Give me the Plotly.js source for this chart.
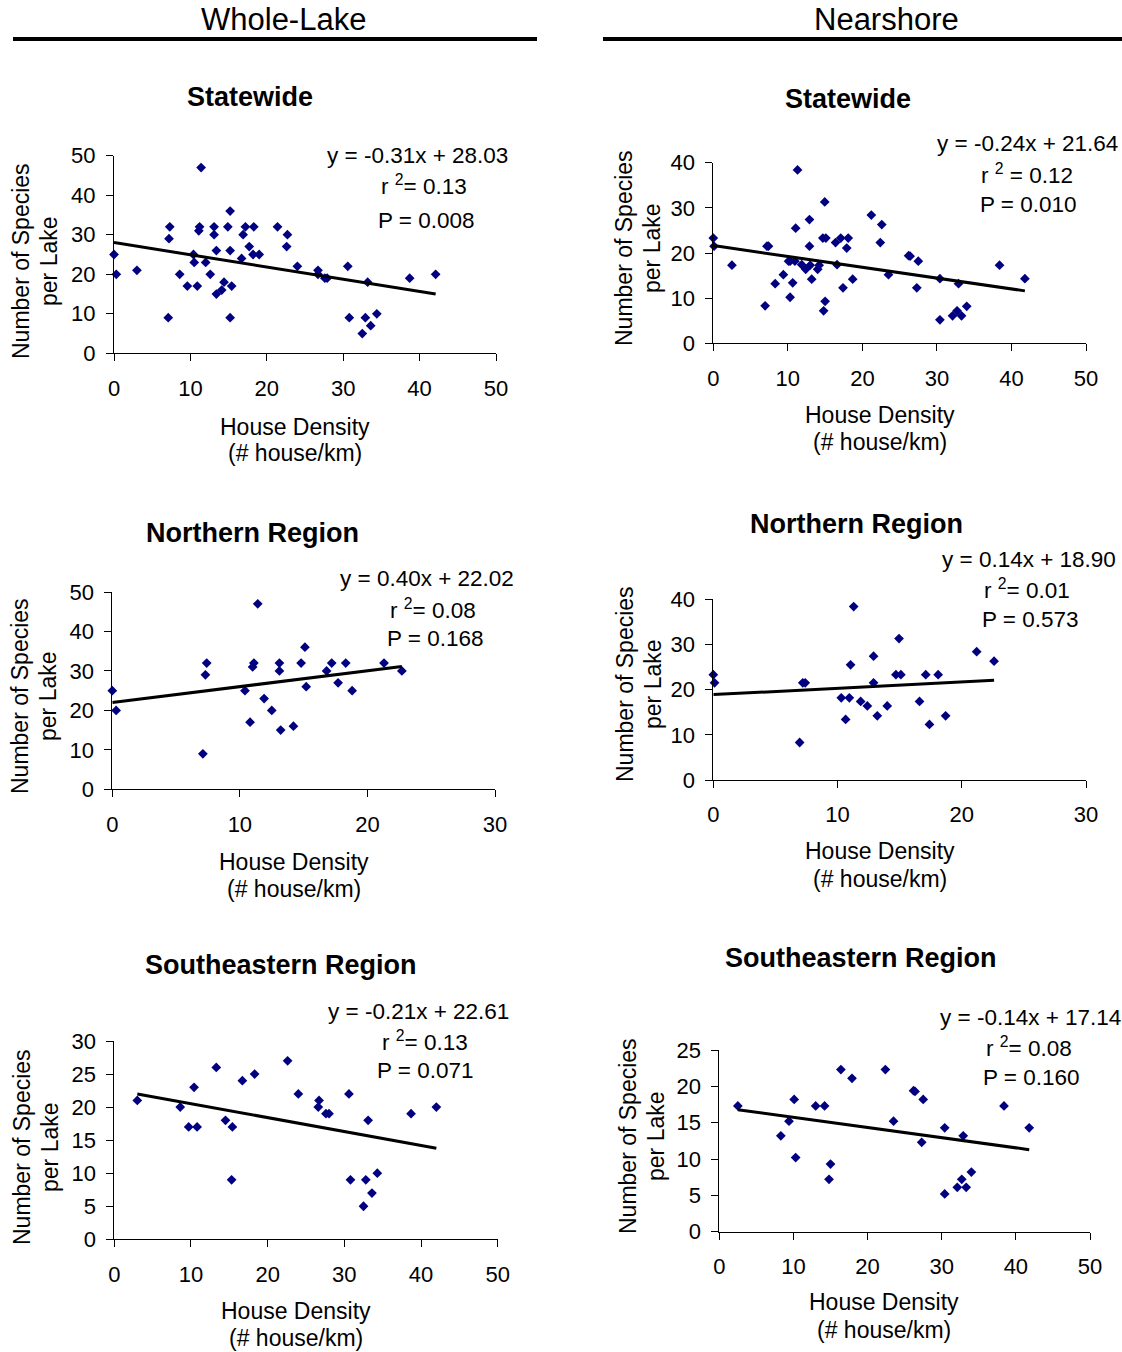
<!DOCTYPE html>
<html>
<head>
<meta charset="utf-8">
<script src="https://cdn.plot.ly/plotly-3.0.1.min.js"></script>
<style>html,body{margin:0;padding:0;background:#fff;}</style>
</head>
<body>
<div id="chart" style="width:1122px;height:1352px;"></div>
<script>
// ---------------- DATA ----------------
const columnHeaders = ['Whole-Lake', 'Nearshore'];
const panelTitles = ['Statewide', 'Statewide', 'Northern Region', 'Northern Region', 'Southeastern Region', 'Southeastern Region'];
const xAxisTitleLines = ['House Density', '(# house/km)'];
const yAxisTitleLines = ['Number of Species', 'per Lake'];

const xTicks50 = [0, 10, 20, 30, 40, 50];
const xTicks30 = [0, 10, 20, 30];
const yTicks50 = [0, 10, 20, 30, 40, 50];
const yTicks40 = [0, 10, 20, 30, 40];
const yTicks30 = [0, 5, 10, 15, 20, 25, 30];
const yTicks25 = [0, 5, 10, 15, 20, 25];

// Whole-lake, statewide
const wlStateX = [0,0.3,3,11.4,7.3,7.2,7.1,8.6,9.6,10.9,10.4,10.5,11.1,11.2,12.0,12.6,13.1,13.1,13.4,13.4,14.1,14.4,14.9,15.2,15.2,15.2,15.4,16.7,16.9,17.2,17.7,18.2,18.3,19.0,21.4,22.6,22.7,24.0,26.7,26.7,27.6,27.9,30.6,30.8,32.5,32.9,33.2,33.6,34.4,38.7,42.1];
const wlStateY = [25,20,21,47,32,29,9,20,17,17,25,23,31,32,23,20,32,30,26,15,16,18,32,36,26,9,17,24,30,32,27,25,32,25,32,27,30,22,21,20,19,19,22,9,5,9,18,7,10,19,20];

// Nearshore, statewide
const nsStateX = [0,0.1,6.95,7.2,7.4,10.3,10.65,10.95,11.05,11.3,11.86,12.4,12.9,12.9,13.2,14.0,14.7,14.95,15.1,16.6,17.1,17.4,18.1,18.7,21.2,22.6,2.5,8.3,9.4,10.1,10.3,13.0,14.2,14.8,15.0,16.4,17.9,22.4,23.5,26.2,26.4,27.3,27.5,30.4,30.4,32.1,32.7,32.9,33.3,34.0,38.4,41.8];
const nsStateY = [23.3,21.5,8.3,21.5,21.5,18.2,13.4,18.2,25.5,38.4,17.4,16.4,27.4,21.5,14.2,16.4,23.3,31.3,23.3,17.4,23.3,12.3,23.3,14.2,28.4,26.3,17.3,13.2,15.2,18.2,10.2,17.3,17.3,7.2,9.3,22.3,21.1,22.3,15.2,19.4,19.3,12.3,18.2,14.3,5.2,6.1,7.2,13.2,6.1,8.2,17.3,14.3];

// Whole-lake, northern region
const wlNorthX = [0,0.3,7.1,7.3,7.4,10.4,10.8,11.0,11.1,11.4,11.9,12.5,13.1,13.1,13.2,14.2,14.8,15.1,15.2,16.8,17.2,17.7,18.3,18.8,21.3,22.7];
const wlNorthY = [25,20,9,29,32,25,17,31,32,47,23,20,32,30,15,16,32,36,26,30,32,27,32,25,32,30];

// Nearshore, northern region
const nsNorthX = [0,0.1,6.95,7.2,7.4,10.3,10.65,10.95,11.05,11.3,11.86,12.4,12.9,12.9,13.2,14.0,14.7,14.95,15.1,16.6,17.1,17.4,18.1,18.7,21.2,22.6];
const nsNorthY = [23.3,21.5,8.3,21.5,21.5,18.2,13.4,18.2,25.5,38.4,17.4,16.4,27.4,21.5,14.2,16.4,23.3,31.3,23.3,17.4,23.3,12.3,23.3,14.2,28.4,26.3];

// Whole-lake, southeastern region
const wlSouthX = [3.0,8.6,9.7,10.4,10.8,13.3,14.5,15.3,15.4,16.7,18.3,22.6,24.0,26.6,26.7,27.6,28.0,30.6,30.8,32.5,32.8,33.1,33.6,34.3,38.7,42.0];
const wlSouthY = [21,20,17,23,17,26,18,9,17,24,25,27,22,20,21,19,19,22,9,5,9,18,7,10,19,20];

// Nearshore, southeastern region
const nsSouthX = [2.5,8.3,9.4,10.1,10.3,13.0,14.2,14.8,15.0,16.4,17.9,22.4,23.5,26.2,26.4,27.3,27.5,30.4,30.4,32.1,32.7,32.9,33.3,34.0,38.4,41.8];
const nsSouthY = [17.3,13.2,15.2,18.2,10.2,17.3,17.3,7.2,9.3,22.3,21.1,22.3,15.2,19.4,19.3,12.3,18.2,14.3,5.2,6.1,7.2,13.2,6.1,8.2,17.3,14.3];

// Regression fits (as printed on the chart)
const fitSlope = [-0.31, -0.24, 0.40, 0.14, -0.21, -0.14];
const fitIntercept = [28.03, 21.64, 22.02, 18.90, 22.61, 17.14];
const eqText = ['y = -0.31x + 28.03', 'y = -0.24x + 21.64', 'y = 0.40x + 22.02', 'y = 0.14x + 18.90', 'y = -0.21x + 22.61', 'y = -0.14x + 17.14'];
const r2Text = ['r <sup>2</sup>= 0.13', 'r <sup>2</sup> = 0.12', 'r <sup>2</sup>= 0.08', 'r <sup>2</sup>= 0.01', 'r <sup>2</sup>= 0.13', 'r <sup>2</sup>= 0.08'];
const pText = ['P = 0.008', 'P = 0.010', 'P = 0.168', 'P = 0.573', 'P = 0.071', 'P = 0.160'];

// ---------------- LAYOUT ----------------
const W = 1122, H = 1352;
const FONT = 'Liberation Sans, Arial, Helvetica, sans-serif';
const px = v => v / W;
const py = v => 1 - v / H;

const seriesX = [wlStateX, nsStateX, wlNorthX, nsNorthX, wlSouthX, nsSouthX];
const seriesY = [wlStateY, nsStateY, wlNorthY, nsNorthY, wlSouthY, nsSouthY];
const xTickSets = [xTicks50, xTicks50, xTicks30, xTicks30, xTicks50, xTicks50];
const yTickSets = [yTicks50, yTicks40, yTicks50, yTicks40, yTicks30, yTicks25];

// pixel boxes [left, right, top, bottom]
const boxes = [
  [114, 496, 155.7, 353.3],
  [713.3, 1086, 162.7, 343.3],
  [112.3, 495, 592, 789.3],
  [713.3, 1086, 599.3, 780],
  [114.3, 497.7, 1041, 1239.3],
  [719.3, 1090, 1050, 1231.7]
];
const titlePos = [[250, 97], [848, 99], [252, 533], [856, 524], [281, 965], [861, 958]];
const eqPos = [[417, 155], [1027, 144], [427, 578], [1029, 559], [418, 1011], [1030, 1017]];
const r2Pos = [[424, 185], [1027, 174], [433, 609], [1027, 589], [425, 1041], [1029, 1047]];
const pPos = [[426, 220], [1028, 204], [435, 638], [1030, 619], [425, 1070], [1031, 1077]];
// [line1 x, line2 x, center y]
const yTitlePos = [[21, 49, 261], [624, 652, 248], [20, 48, 696], [625, 653, 684], [22, 50, 1147], [628, 656, 1136]];
// [center x, line1 y, line2 y]
const xTitlePos = [[295, 427, 453], [880, 415, 442], [294, 862, 889], [880, 851, 879], [296, 1311, 1338], [884, 1302, 1330]];

const traces = [];
const layout = {
  width: W, height: H,
  margin: {l: 0, r: 0, t: 0, b: 0},
  paper_bgcolor: '#fff', plot_bgcolor: 'rgba(0,0,0,0)',
  showlegend: false,
  font: {family: FONT, color: '#000'},
  annotations: [],
  shapes: []
};

const ann = (text, x, y, size, extra) => Object.assign({
  text: text, xref: 'paper', yref: 'paper', x: px(x), y: py(y),
  xanchor: 'center', yanchor: 'middle', showarrow: false,
  font: {family: FONT, size: size, color: '#000'}
}, extra || {});

for (let i = 0; i < 6; i++) {
  const n = i + 1;
  const xa = 'x' + (n === 1 ? '' : n), ya = 'y' + (n === 1 ? '' : n);
  const xs = seriesX[i], ys = seriesY[i];
  const b = boxes[i];
  traces.push({
    type: 'scatter', mode: 'markers', x: xs, y: ys, xaxis: xa, yaxis: ya,
    marker: {symbol: 'diamond', size: 7.5, color: '#000080'},
    cliponaxis: false, hoverinfo: 'skip'
  });
  const xmin = Math.min(...xs), xmax = Math.max(...xs);
  traces.push({
    type: 'scatter', mode: 'lines',
    x: [xmin, xmax],
    y: [fitSlope[i] * xmin + fitIntercept[i], fitSlope[i] * xmax + fitIntercept[i]],
    xaxis: xa, yaxis: ya,
    line: {color: '#000', width: 3}, cliponaxis: false, hoverinfo: 'skip'
  });
  const xt = xTickSets[i], yt = yTickSets[i];
  const common = {
    showline: true, linecolor: '#000', linewidth: 1,
    ticks: 'outside', ticklen: 7, tickwidth: 1, tickcolor: '#000',
    showgrid: false, zeroline: false, fixedrange: true,
    tickfont: {family: FONT, size: 22, color: '#000'}
  };
  layout['xaxis' + (n === 1 ? '' : n)] = Object.assign({}, common, {
    domain: [px(b[0]), px(b[1])], range: [xt[0], xt[xt.length - 1]],
    tickvals: xt, ticktext: xt.map(String), anchor: ya, ticklabelstandoff: 8
  });
  layout['yaxis' + (n === 1 ? '' : n)] = Object.assign({}, common, {
    domain: [py(b[3]), py(b[2])], range: [yt[0], yt[yt.length - 1]],
    tickvals: yt, ticktext: yt.map(String), anchor: xa, ticklabelstandoff: 6
  });

  layout.annotations.push(ann(panelTitles[i], titlePos[i][0], titlePos[i][1], 27, {font: {family: FONT, size: 27, color: '#000', weight: 'bold'}}));
  layout.annotations.push(ann(eqText[i], eqPos[i][0], eqPos[i][1], 22.5));
  layout.annotations.push(ann(r2Text[i], r2Pos[i][0], r2Pos[i][1], 22.5));
  layout.annotations.push(ann(pText[i], pPos[i][0], pPos[i][1], 22.5));
  const yp = yTitlePos[i];
  layout.annotations.push(ann(yAxisTitleLines[0], yp[0], yp[2], 23, {textangle: -90}));
  layout.annotations.push(ann(yAxisTitleLines[1], yp[1], yp[2], 23, {textangle: -90}));
  const xp = xTitlePos[i];
  layout.annotations.push(ann(xAxisTitleLines[0], xp[0], xp[1], 23));
  layout.annotations.push(ann(xAxisTitleLines[1], xp[0], xp[2], 23));
}

// column headers
layout.annotations.push(ann(columnHeaders[0], 283, 20, 31));
layout.annotations.push(ann(columnHeaders[1], 886, 20, 31));
layout.shapes.push({type: 'line', xref: 'paper', yref: 'paper', x0: px(13), x1: px(537), y0: py(39), y1: py(39), line: {color: '#000', width: 4}});
layout.shapes.push({type: 'line', xref: 'paper', yref: 'paper', x0: px(603), x1: px(1122), y0: py(39), y1: py(39), line: {color: '#000', width: 4}});

Plotly.newPlot('chart', traces, layout, {staticPlot: true, displayModeBar: false});
</script>
</body>
</html>
